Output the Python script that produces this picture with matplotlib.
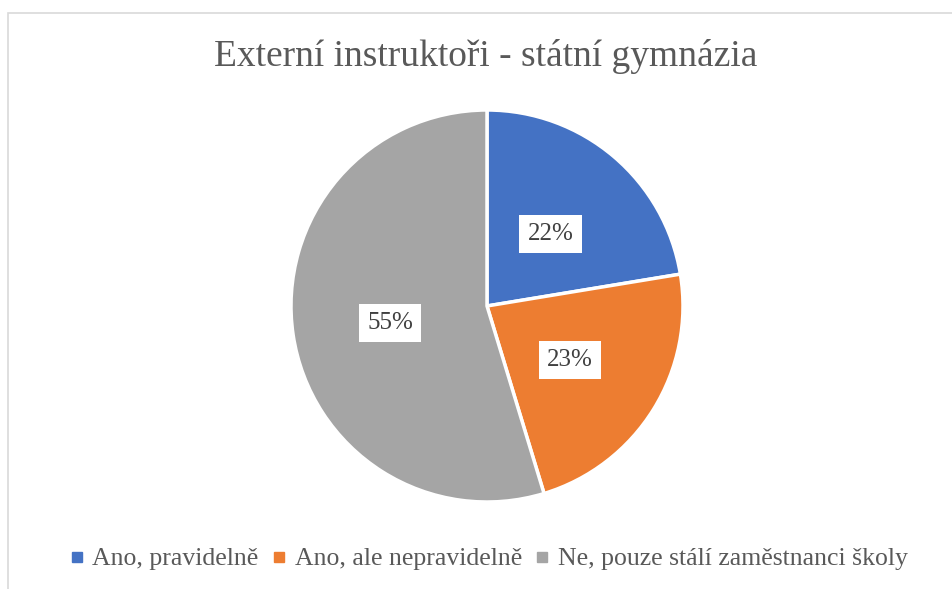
import matplotlib.pyplot as plt
from matplotlib.patches import Rectangle
from matplotlib.lines import Line2D

plt.rcParams['font.family'] = ['Liberation Serif', 'DejaVu Serif']
serif = ['Liberation Serif', 'DejaVu Serif']

title = 'Externí instruktoři - státní gymnázia'
labels = ['Ano, pravidelně', 'Ano, ale nepravidelně', 'Ne, pouze stálí zaměstnanci školy']
shares = [22.4, 22.9, 54.7]
colors = ['#4472C4', '#ED7D31', '#A5A5A5']

fig = plt.figure(figsize=(9.52, 5.89), dpi=100)

# chart frame (light gray border)
fig.patches.append(Rectangle((8 / 952, -0.1), 1.2, 1 - 13 / 589 + 0.1,
                             transform=fig.transFigure, fill=False,
                             edgecolor='#D9D9D9', linewidth=1.2))

ax = fig.add_axes([(487 - 196) / 952, (589 - 502) / 589, 392 / 952, 392 / 589])
wedges, texts, autotexts = ax.pie(
    shares, colors=colors, startangle=90, counterclock=False,
    autopct=lambda p: '{:.0f}%'.format(p), pctdistance=0.5,
    wedgeprops=dict(edgecolor='white', linewidth=2.5),
    textprops=dict(color='#404040', fontsize=18, family=serif))
for t in autotexts:
    t.set_verticalalignment('center_baseline')
    t.set_bbox(dict(facecolor='white', edgecolor='none', pad=6))
ax.set_xlim(-1, 1)
ax.set_ylim(-1, 1)
ax.set_aspect('equal')

fig.text(0.51, 1 - 57 / 589, title, ha='center', va='center',
         fontsize=27, color='#595959', family=serif)

handles = [Line2D([], [], marker='s', linestyle='none', markersize=7,
                  markerfacecolor=c, markeredgecolor=c) for c in colors]
fig.legend(handles, labels, loc='center', bbox_to_anchor=(0.513, 1 - 559 / 589),
           ncol=3, frameon=False, handlelength=0.6,
           handletextpad=0.3, columnspacing=0.5, labelcolor='#595959',
           prop=dict(family=serif, size=18.5))

fig.savefig('out.png', dpi=100)
plt.close('all')
